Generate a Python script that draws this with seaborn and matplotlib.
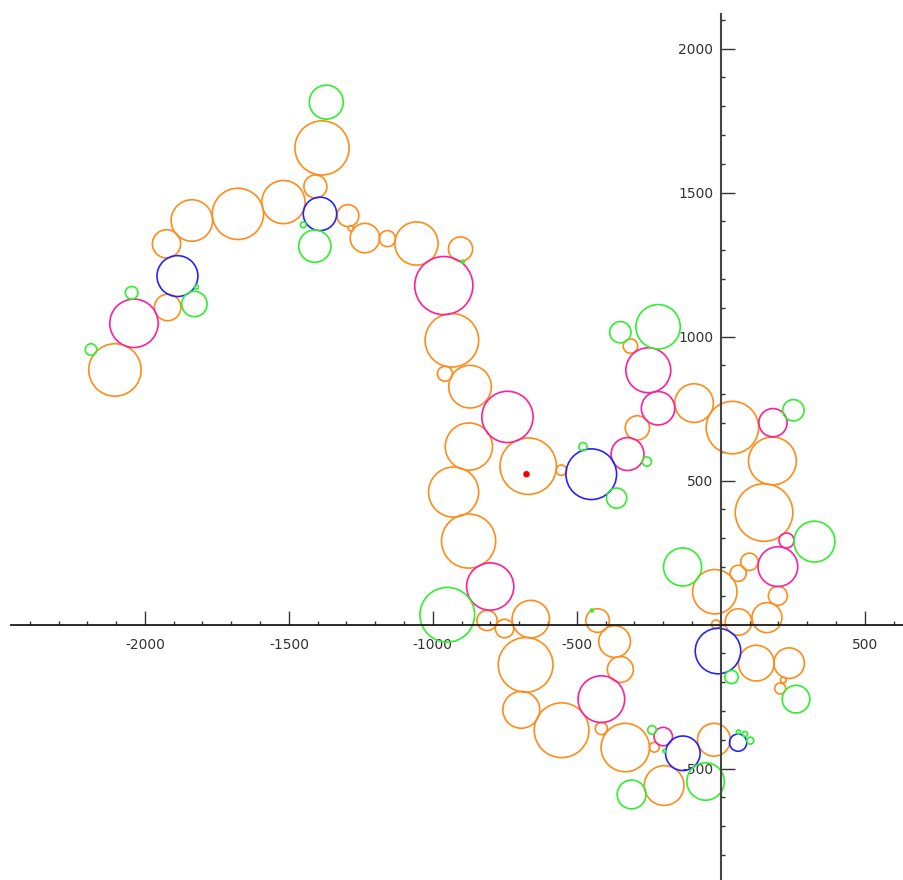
import numpy as np
import pandas as pd
import matplotlib
matplotlib.use("Agg")
import matplotlib.pyplot as plt
import seaborn as sns
from matplotlib.patches import Circle
from matplotlib.ticker import MultipleLocator, FixedLocator


# circles: centre x, centre y, radius (data units)
orange_x = [-1385, -1408, -1519, -1677, -1837, -1925, -1921, -2104, -1295, -1285,
            -1236, -1158, -1057, -904, -934, -958, -871, -875, -669, -554,
            -928, -876, -812, -751, -660, -678, -693, -553, -428, -369,
            -349, -415, -332, -197, -231, -24, -21, 60, 99, 198,
            -17, 61, 160, 123, 237, 217, 206, 150, 179, 40,
            -93, -290, -314]
orange_y = [1655, 1521, 1467, 1426, 1403, 1322, 1101, 884, 1420, 1376,
            1342, 1340, 1323, 1304, 987, 871, 826, 618, 550, 536,
            460, 290, 14, -14, 19, -140, -296, -367, 14, -59,
            -156, -361, -427, -559, -426, -400, 114, 178, 218, 100,
            1, 9, 24, -134, -134, -193, -222, 389, 568, 684,
            769, 683, 967]
orange_r = [94, 40, 75, 89, 72, 49, 46, 91, 38, 9,
            51, 28, 75, 42, 93, 26, 74, 82, 98, 18,
            87, 94, 35, 32, 65, 95, 64, 95, 41, 55,
            45, 21, 84, 69, 17, 57, 77, 28, 30, 33,
            15, 46, 52, 62, 53, 10, 19, 100, 83, 91,
            67, 42, 25]

pink_x = [-2038, -962, -741, -801, -415, -200, -252, -218, -324, 181, 198, 228]
pink_y = [1046, 1177, 721, 132, -259, -389, 883, 751, 592, 701, 201, 292]
pink_r = [84, 101, 89, 82, 81, 32, 78, 58, 57, 49, 69, 26]

blue_x = [-1392, -1887, -450, -10, -132, 60]
blue_y = [1426, 1210, 522, -92, -447, -410]
blue_r = [58, 71, 88, 79, 60, 30]

green_x = [-1370, -1410, -1450, -1828, -1821, -2046, -2187, -896, -950, -479,
           -362, -257, -349, -218, 252, 325, -133, 37, 261, -239,
           -196, 61, 84, 102, -53, -310, -448]
green_y = [1814, 1314, 1388, 1113, 1172, 1152, 955, 1260, 34, 618,
           439, 566, 1015, 1034, 744, 288, 200, -182, -259, -366,
           -439, -373, -380, -403, -545, -590, 49]
green_r = [59, 56, 10, 44, 7, 22, 20, 5, 95, 14,
           35, 16, 37, 77, 37, 71, 66, 23, 48, 15,
           5, 7, 9, 12, 65, 50, 5]

center_x = [-675]
center_y = [522]

x_ticks = [-2000, -1500, -1000, -500, 500]
y_ticks = [-500, 500, 1000, 1500, 2000]

COLORS = {
    "orange": "#ff8c1a",
    "pink": "#ff1f9a",
    "blue": "#2424ff",
    "green": "#2ef02e",
}


def build_frame():
    parts = [
        pd.DataFrame({"x": orange_x, "y": orange_y, "r": orange_r, "kind": "orange"}),
        pd.DataFrame({"x": pink_x, "y": pink_y, "r": pink_r, "kind": "pink"}),
        pd.DataFrame({"x": blue_x, "y": blue_y, "r": blue_r, "kind": "blue"}),
        pd.DataFrame({"x": green_x, "y": green_y, "r": green_r, "kind": "green"}),
    ]
    return pd.concat(parts, ignore_index=True)


def main():
    sns.set_style("white")
    plt.rcParams["font.family"] = ["DejaVu Sans"]

    df = build_frame()

    fig = plt.figure(figsize=(9.04, 8.8), dpi=100)
    ax = fig.add_axes([10.7 / 904, 0, (904 - 10.7) / 904, 866 / 880])

    for _, row in df.iterrows():
        ax.add_patch(Circle((row["x"], row["y"]), row["r"], fill=False,
                            edgecolor=COLORS[row["kind"]], linewidth=1.2))

    sns.scatterplot(x=center_x, y=center_y, color="red", s=22,
                    edgecolor="none", ax=ax, zorder=5)

    ax.set_xlim(-2466, 636)
    ax.set_ylim(-887, 2120)

    # axes through the origin, sage style
    ax.spines["left"].set_position(("data", 0))
    ax.spines["bottom"].set_position(("data", 0))
    ax.spines["top"].set_visible(False)
    ax.spines["right"].set_visible(False)
    ax.spines["bottom"].set_color("#1a1a1a")
    ax.spines["left"].set_color("#444444")
    ax.spines["bottom"].set_linewidth(1.3)
    ax.spines["left"].set_linewidth(1.5)

    ax.xaxis.set_major_locator(FixedLocator(x_ticks))
    ax.yaxis.set_major_locator(FixedLocator(y_ticks))
    ax.xaxis.set_minor_locator(MultipleLocator(100))
    ax.yaxis.set_minor_locator(MultipleLocator(100))
    ax.set_xticklabels([str(v) for v in x_ticks])
    ax.set_yticklabels([str(v) for v in y_ticks])

    # seaborn's white style switches the ticks off, turn them back on
    ax.tick_params(axis="both", which="both", bottom=True, left=True,
                   top=False, right=False)
    ax.tick_params(axis="both", which="major", direction="in", length=10,
                   width=1.0, color="#333333", labelsize=10, labelcolor="#333333")
    ax.tick_params(axis="both", which="minor", direction="in", length=3,
                   width=1.0, color="#333333")
    ax.tick_params(axis="x", which="major", pad=9.5)
    ax.tick_params(axis="y", which="major", pad=5.5)

    ax.set_xlabel("")
    ax.set_ylabel("")
    ax.patch.set_alpha(0)

    fig.savefig("out.png", dpi=100)
    plt.close(fig)


if __name__ == "__main__":
    main()
